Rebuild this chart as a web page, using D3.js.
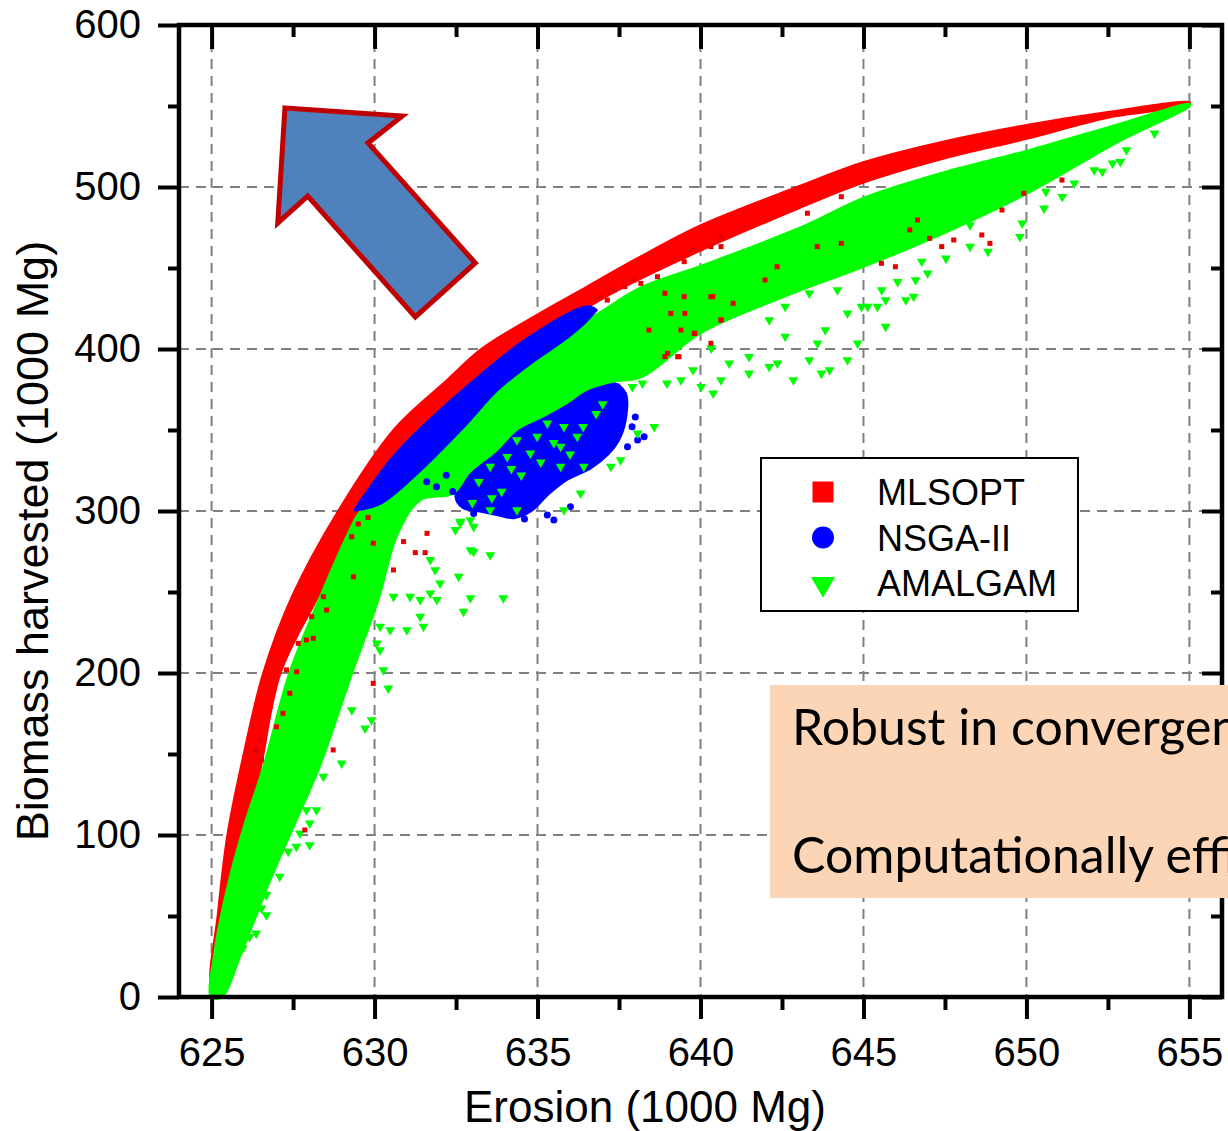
<!DOCTYPE html>
<html>
<head>
<meta charset="utf-8">
<script src="https://cdn.jsdelivr.net/npm/d3@7"></script>
<style>
  body { margin: 0; background: #fff; }
  svg { display: block; }
</style>
</head>
<body>
<svg id="chart" width="1228" height="1131"></svg>
<script>
// axis ticks
var xMajor = [625, 630, 635, 640, 645, 650, 655];
var xMinor = [627.5, 632.5, 637.5, 642.5, 647.5, 652.5];
var yMajor = [0, 100, 200, 300, 400, 500, 600];
var yMinor = [50, 150, 250, 350, 450, 550];
var yGrid = [100, 200, 300, 400, 500];

var seriesNames = ["MLSOPT", "NSGA-II", "AMALGAM"];
var seriesColors = ["#ff0000", "#0000ff", "#00ff00"];

// MLSOPT: dense band (upper / lower edge) and loose points
var mlsoptUpper = [[625.0, 10], [625.2, 50], [625.5, 100], [626.0, 150], [626.6, 200], [627.5, 248],
  [628.9, 300], [630.6, 350], [632.2, 380], [633.3, 400], [635.0, 421], [636.5, 438], [638.0, 455],
  [640.0, 476], [643.0, 500], [645.0, 515], [647.5, 528], [650.0, 538], [652.5, 546], [655.0, 552]];
var mlsoptLower = [[625.1, 10], [625.5, 60], [626.05, 100], [626.5, 142], [627.1, 200], [628.2, 245],
  [629.3, 286], [629.5, 300], [630.68, 335.6], [632.73, 374.7], [634.78, 407.6], [636.53, 426.1],
  [637.5, 437], [640.0, 461], [643.0, 487], [645.0, 503], [647.5, 518], [650.0, 530], [652.5, 543], [655.0, 551]];
var mlsoptPoints = [[628.43, 247.1], [628.53, 238.9], [628.07, 234.8], [627.91, 220.4], [628.12, 221.4],
  [627.66, 218.3], [627.30, 201.9], [627.61, 200.8], [627.40, 187.5], [627.19, 175.1], [626.99, 166.8],
  [626.48, 158.6], [626.37, 152.5], [626.53, 146.3], [626.22, 129.8], [628.73, 152.5], [627.86, 103.1],
  [629.96, 193.6], [630.89, 281.1], [631.25, 274.3], [631.55, 274.3], [631.61, 286.2], [630.58, 263.6],
  [629.35, 259.4], [629.30, 284.1], [629.96, 280.1], [629.5, 292], [629.8, 296], [629.2, 294],
  [638.91, 434.4], [639.52, 422.0], [639.83, 409.7], [638.91, 395.3], [639.34, 395.3], [640.63, 417.9],
  [641.0, 428.2], [641.98, 442.6], [642.35, 450.8], [643.58, 463.2], [644.32, 465.2], [645.55, 452.9],
  [645.98, 450.8], [646.42, 473.5], [647.03, 468.3], [647.40, 463.2], [647.77, 467.3], [648.63, 470.4],
  [648.88, 465.2], [649.25, 485.8], [649.92, 496.1], [651.09, 504.3], [646.66, 479.6], [644.32, 494.0],
  [643.28, 483.8], [640.63, 463.2], [640.38, 432.3], [638.42, 411.7], [637.68, 438.5],
  [636.94, 432.3], [637.14, 430.2], [637.35, 436.4], [637.96, 442.6], [638.17, 440.5], [638.68, 444.6],
  [639.50, 453.9], [639.81, 461.1], [640.32, 463.2], [640.63, 469.3], [639.50, 432.3], [640.32, 432.3],
  [640.63, 417.9], [639.09, 422.0], [639.40, 411.7], [639.81, 409.6], [638.99, 397.3], [639.30, 395.2],
  [640.32, 403.5]];

// NSGA-II: crescent below the MLSOPT front, a blob mixed with AMALGAM, loose points
var nsgaUpper = [[629.4, 300.6], [630.68, 335.6], [632.73, 374.7], [634.78, 407.6], [636.53, 426.1], [636.8, 424]];
var nsgaLower = [[629.4, 300.6], [630.17, 304.7], [631.19, 321.2], [632.73, 352.0], [633.76, 374.7],
  [634.78, 391.2], [635.81, 405.6], [636.42, 415.8], [636.8, 424]];
var nsgaBlob = [[632.53, 308.8], [632.94, 327.4], [633.76, 339.7], [634.37, 354.1], [635.19, 360.3],
  [635.81, 368.5], [636.42, 376.7], [637.25, 378.8], [637.66, 372.6], [637.66, 356.2], [637.45, 343.8],
  [637.14, 335.6], [636.63, 327.4], [635.81, 319.1], [635.30, 310.9], [634.78, 300.6], [634.27, 296.5],
  [633.76, 298.5], [633.25, 300.6], [632.73, 302.7]];
var nsgaPoints = [[633.04, 298.5], [635.50, 294.4], [636.01, 302.7], [638.07, 343.8], [638.27, 345.9],
  [637.76, 339.7], [637.45, 376.7], [637.17, 346.9], [635.3, 297.5], [634.6, 295], [631.9, 315],
  [632.2, 322], [632.4, 312], [631.6, 318], [637.9, 352], [638.0, 358]];

// AMALGAM: dense band and loose points
var amalgamUpper = [[625.0, 0], [625.1, 27], [625.5, 68], [626.0, 105], [626.6, 142], [627.4, 200],
  [628.3, 245], [629.2, 286], [629.6, 300], [630.17, 304.7], [631.19, 321.2], [632.73, 352.0],
  [633.76, 374.7], [634.78, 391.2], [635.81, 405.6], [636.42, 415.8], [636.9, 422], [638.2, 438],
  [640.0, 451], [643.1, 475], [645.0, 493], [647.5, 509], [650.0, 522], [652.9, 539], [655.0, 551]];
var amalgamLower = [[625.3, 0], [625.9, 27], [626.7, 68], [627.5, 105], [628.3, 142], [629.3, 200],
  [630.1, 245], [630.7, 286], [631.4, 307], [632.4, 311], [632.9, 324], [633.7, 337], [634.4, 351],
  [635.2, 359], [635.9, 367], [636.5, 375], [637.3, 380], [638.2, 383], [640.0, 410], [642.5, 432],
  [645.0, 451], [647.5, 472], [650.0, 496], [652.9, 529], [655.0, 550]];
var amalgamPoints = [[642.11, 417.9], [642.60, 407.6], [643.34, 434.3], [643.34, 393.2], [643.59, 403.5],
  [643.83, 411.7], [644.20, 436.4], [644.51, 422.0], [644.51, 393.2], [644.82, 403.5], [644.94, 426.1],
  [645.13, 426.1], [645.43, 426.1], [645.56, 436.4], [645.68, 430.2], [645.68, 413.8], [646.05, 441.5],
  [646.30, 430.2], [646.54, 432.3], [646.60, 442.6], [646.79, 453.9], [646.97, 446.7], [647.53, 455.9],
  [648.27, 476.5], [648.27, 463.2], [648.82, 460.1], [649.80, 469.3], [649.87, 477.6], [650.54, 486.8],
  [650.60, 497.1], [651.10, 494.0], [651.47, 502.2], [652.08, 510.5], [652.33, 509.5], [652.64, 514.6],
  [652.88, 515.6], [653.07, 522.8], [653.93, 533.1], [640.39, 372.6], [640.02, 376.7], [639.77, 387.0],
  [641.49, 384.9], [641.49, 395.2], [640.88, 391.1], [640.63, 380.8], [639.40, 380.8], [638.97, 378.8],
  [640.33, 400.4], [642.85, 380.8], [642.11, 389.0], [642.36, 391.1], [643.96, 387.0], [643.71, 384.9],
  [642.60, 426.1],
  [632.63, 292.4], [633.04, 290.3], [632.94, 275.9], [633.04, 274.9], [631.86, 263.6], [632.58, 259.5],
  [632.01, 255.4], [631.09, 247.1], [631.71, 249.2], [631.91, 245.1], [630.58, 247.1], [631.40, 234.8],
  [632.73, 237.9], [631.50, 228.6], [630.99, 226.5], [630.48, 226.5], [630.17, 228.6], [630.07, 218.3],
  [630.17, 214.2], [630.27, 201.8], [630.42, 190.5], [629.91, 171.0], [629.71, 165.8], [629.30, 177.1],
  [628.99, 144.2], [628.53, 159.7], [628.22, 151.4], [628.43, 136.0], [627.91, 115.4], [628.22, 115.4],
  [628.01, 107.2], [628.01, 93.8], [627.60, 92.8], [627.71, 101.0], [627.09, 95.9], [626.68, 50.6],
  [626.37, 39.3], [626.58, 62.9], [626.17, 37.2], [625.96, 30.0], [627.35, 89.7], [627.09, 74.3],
  [626.68, 63.0], [626.53, 54.8],
  [632.94, 246.3], [633.95, 246.3], [633.55, 272.8], [632.48, 288.3], [631.71, 269.8], [631.40, 245.1],
  [632.94, 294.4],
  [632.63, 293.4], [633.55, 300.6], [634.37, 300.6], [635.81, 300.6], [636.32, 310.9], [637.25, 327.4],
  [637.55, 331.5], [638.07, 347.9], [638.58, 352.0], [638.22, 378.8], [637.91, 376.7],
  [634.58, 356.2], [634.99, 345.9], [635.30, 354.1], [635.71, 339.7], [634.37, 343.8], [634.78, 335.6],
  [634.07, 333.5], [633.55, 327.4], [635.81, 352.0], [636.22, 345.9], [636.42, 327.4], [635.71, 327.4],
  [633.2, 318], [633.9, 312], [634.5, 322], [635.1, 330], [635.5, 342], [636.0, 335], [636.8, 360],
  [633.0, 305], [634.2, 326], [636.4, 352], [637.0, 366], [633.6, 308]];

// arrow annotation, in data units
var arrowShape = [[627.25, 548.8], [630.85, 543.8], [629.80, 527.2], [633.09, 453.1], [631.25, 419.8],
  [627.95, 494.4], [627.03, 477.8]];

var boxLines = ["Robust in convergence", "Computationally efficient"];

var svg = d3.select("#chart");
var x = d3.scaleLinear().domain([624, 656]).range([179, 1222]);
var y = d3.scaleLinear().domain([0, 600]).range([997, 25]);
var plotLeft = x.range()[0], plotRight = x.range()[1], plotTop = y.range()[1], plotBottom = y.range()[0];

var line = d3.line().x(function(d) { return x(d[0]); }).y(function(d) { return y(d[1]); });
var smooth = d3.line().x(function(d) { return x(d[0]); }).y(function(d) { return y(d[1]); })
  .curve(d3.curveCatmullRomClosed.alpha(0.5));
function band(upper, lower) {
  return smooth(upper.concat(lower.slice().reverse()));
}

// grid
svg.append("g").selectAll("line").data(xMajor).enter().append("line")
  .attr("x1", function(d) { return x(d); }).attr("x2", function(d) { return x(d); })
  .attr("y1", plotTop).attr("y2", plotBottom)
  .attr("stroke", "#808080").attr("stroke-width", 2).attr("stroke-dasharray", "10,7");
svg.append("g").selectAll("line").data(yGrid).enter().append("line")
  .attr("y1", function(d) { return y(d); }).attr("y2", function(d) { return y(d); })
  .attr("x1", plotLeft).attr("x2", plotRight)
  .attr("stroke", "#808080").attr("stroke-width", 2).attr("stroke-dasharray", "10,7");

var plot = svg.append("g");

// MLSOPT
plot.append("path").attr("d", band(mlsoptUpper, mlsoptLower))
  .attr("fill", seriesColors[0]).attr("stroke", seriesColors[0]).attr("stroke-width", 3).attr("stroke-linejoin", "round");

// NSGA-II blob first, AMALGAM band partly over it
plot.append("path").attr("d", smooth(nsgaBlob))
  .attr("fill", seriesColors[1]).attr("stroke", seriesColors[1]).attr("stroke-width", 5).attr("stroke-linejoin", "round");

plot.append("path").attr("d", band(amalgamUpper, amalgamLower))
  .attr("fill", seriesColors[2]).attr("stroke", seriesColors[2]).attr("stroke-width", 3).attr("stroke-linejoin", "round");

plot.append("path").attr("d", band(nsgaUpper, nsgaLower))
  .attr("fill", seriesColors[1]).attr("stroke", seriesColors[1]).attr("stroke-width", 3).attr("stroke-linejoin", "round");

plot.append("g").selectAll("circle").data(nsgaPoints).enter().append("circle")
  .attr("cx", function(d) { return x(d[0]); }).attr("cy", function(d) { return y(d[1]); })
  .attr("r", 3.5).attr("fill", seriesColors[1]);

var tri = d3.symbol().type(d3.symbolTriangle).size(42);
plot.append("g").selectAll("path").data(amalgamPoints).enter().append("path")
  .attr("d", tri)
  .attr("transform", function(d) { return "translate(" + x(d[0]) + "," + y(d[1]) + ") rotate(180)"; })
  .attr("fill", seriesColors[2]);

plot.append("g").selectAll("rect").data(mlsoptPoints).enter().append("rect")
  .attr("x", function(d) { return x(d[0]) - 2.5; }).attr("y", function(d) { return y(d[1]) - 2.5; })
  .attr("width", 5).attr("height", 5).attr("fill", "#e60000");

// axes
function styleAxis(g) {
  g.select(".domain").remove();
  g.selectAll(".tick line").attr("stroke", "#000").attr("stroke-width", 4);
  g.selectAll("text").attr("fill", "#000").attr("font-family", "'Liberation Sans', Arial, sans-serif").attr("font-size", 40);
}
svg.append("g").attr("transform", "translate(0," + plotBottom + ")")
  .call(d3.axisBottom(x).tickValues(xMajor).tickSizeInner(22).tickSizeOuter(0).tickPadding(19).tickFormat(d3.format("d")))
  .call(styleAxis);
svg.append("g").attr("transform", "translate(0," + plotBottom + ")")
  .call(d3.axisBottom(x).tickValues(xMinor).tickSizeInner(13).tickSizeOuter(0).tickFormat(""))
  .call(styleAxis);
svg.append("g").attr("transform", "translate(0," + plotTop + ")")
  .call(d3.axisTop(x).tickValues(xMajor).tickSizeInner(-24).tickSizeOuter(0).tickFormat(""))
  .call(styleAxis);
svg.append("g").attr("transform", "translate(0," + plotTop + ")")
  .call(d3.axisTop(x).tickValues(xMinor).tickSizeInner(-12).tickSizeOuter(0).tickFormat(""))
  .call(styleAxis);
svg.append("g").attr("transform", "translate(" + plotLeft + ",0)")
  .call(d3.axisLeft(y).tickValues(yMajor).tickSizeInner(21).tickSizeOuter(0).tickPadding(17))
  .call(styleAxis);
svg.append("g").attr("transform", "translate(" + plotLeft + ",0)")
  .call(d3.axisLeft(y).tickValues(yMinor).tickSizeInner(11).tickSizeOuter(0).tickFormat(""))
  .call(styleAxis);
svg.append("g").attr("transform", "translate(" + plotRight + ",0)")
  .call(d3.axisRight(y).tickValues(yMajor).tickSizeInner(-20).tickSizeOuter(0).tickFormat(""))
  .call(styleAxis);
svg.append("g").attr("transform", "translate(" + plotRight + ",0)")
  .call(d3.axisRight(y).tickValues(yMinor).tickSizeInner(-11).tickSizeOuter(0).tickFormat(""))
  .call(styleAxis);

svg.append("rect").attr("x", plotLeft).attr("y", plotTop)
  .attr("width", plotRight - plotLeft).attr("height", plotBottom - plotTop)
  .attr("fill", "none").attr("stroke", "#000").attr("stroke-width", 4.5);

svg.append("text").attr("x", 645).attr("y", 1122).attr("text-anchor", "middle")
  .attr("font-family", "'Liberation Sans', Arial, sans-serif").attr("font-size", 44)
  .text("Erosion (1000 Mg)");
svg.append("text").attr("transform", "translate(48,541) rotate(-90)").attr("text-anchor", "middle")
  .attr("font-family", "'Liberation Sans', Arial, sans-serif").attr("font-size", 45)
  .text("Biomass harvested (1000 Mg)");

// arrow
svg.append("path").attr("d", line(arrowShape) + "Z")
  .attr("fill", "#4f81bd").attr("stroke", "#c00000").attr("stroke-width", 5).attr("stroke-linejoin", "miter");

// legend
var legend = svg.append("g").attr("transform", "translate(761,458)");
legend.append("rect").attr("width", 317).attr("height", 153)
  .attr("fill", "#fff").attr("stroke", "#000").attr("stroke-width", 2);
var item = legend.selectAll("g.item").data(seriesNames).enter().append("g")
  .attr("class", "item")
  .attr("transform", function(d, i) { return "translate(62," + (34 + i * 45.5) + ")"; });
item.append("path")
  .attr("d", function(d, i) {
    if (i === 0) return d3.symbol().type(d3.symbolSquare).size(441)();
    if (i === 1) return d3.symbol().type(d3.symbolCircle).size(380)();
    return d3.symbol().type(d3.symbolTriangle).size(250)();
  })
  .attr("transform", function(d, i) { return i === 2 ? "translate(0,1) rotate(180)" : null; })
  .attr("fill", function(d, i) { return seriesColors[i]; });
item.append("text").attr("x", 54).attr("y", 13)
  .attr("font-family", "'Liberation Sans', Arial, sans-serif").attr("font-size", 36)
  .text(function(d) { return d; });

// text box
var note = svg.append("g");
note.append("rect").attr("x", 770).attr("y", 685).attr("width", 480).attr("height", 213).attr("fill", "#fbd5b5");
note.selectAll("text").data(boxLines).enter().append("text")
  .attr("x", 792).attr("y", function(d, i) { return 745 + i * 128; })
  .attr("font-family", "Lato, 'Open Sans', sans-serif").attr("font-size", 50)
  .text(function(d) { return d; });
</script>
</body>
</html>
